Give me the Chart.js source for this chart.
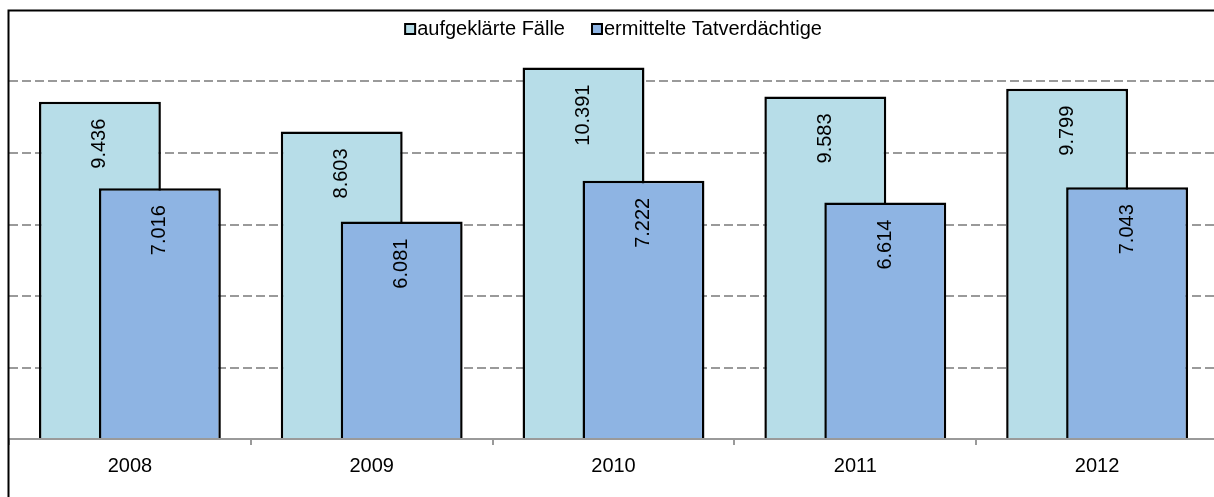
<!DOCTYPE html>
<html>
<head>
<meta charset="utf-8">
<script src="https://cdn.jsdelivr.net/npm/chart.js@4/dist/chart.umd.min.js"></script>
<style>
  html, body { margin: 0; padding: 0; background: #fff; overflow: hidden; }
  #wrap { position: absolute; left: 0; top: 0; width: 1220px; height: 497px; }
</style>
</head>
<body>
<div id="wrap"><canvas id="chart"></canvas></div>
<script>
const years = ['2008', '2009', '2010', '2011', '2012'];
const aufgeklaerteFaelle = [9436, 8603, 10391, 9583, 9799];
const ermittelteTatverdaechtige = [7016, 6081, 7222, 6614, 7043];
const seriesNames = ['aufgeklärte Fälle', 'ermittelte Tatverdächtige'];

const FONT = '"Liberation Sans", Arial, sans-serif';

// German thousands separator
function fmt(v) {
  return String(v).replace(/\B(?=(\d{3})+(?!\d))/g, '.');
}

function drawValueLabels(chart) {
  const ctx = chart.ctx;
  ctx.save();
  ctx.fillStyle = '#000';
  ctx.font = '20px ' + FONT;
  ctx.textAlign = 'right';
  ctx.textBaseline = 'middle';
  chart.data.datasets.forEach((ds, i) => {
    chart.getDatasetMeta(i).data.forEach((bar, j) => {
      ctx.save();
      ctx.translate(bar.x, bar.y + 17);
      ctx.rotate(-Math.PI / 2);
      ctx.fillText(fmt(ds.data[j]), 0, 0);
      ctx.restore();
    });
  });
  ctx.restore();
}

// draw datasets first-to-last so the second series overlaps the first
const forwardDraw = {
  id: 'forwardDraw',
  beforeDatasetsDraw(chart) {
    chart.getSortedVisibleDatasetMetas().forEach(meta => meta.controller.draw());
    drawValueLabels(chart);
    return false;
  }
};

// legend inside the plot area + chart frame
const frameAndLegend = {
  id: 'frameAndLegend',
  afterDraw(chart) {
    const ctx = chart.ctx;
    const area = chart.chartArea;
    ctx.save();
    ctx.font = '20px ' + FONT;
    const box = 10, gapText = 2, gapItem = 27;
    const widths = chart.data.datasets.map(ds => ctx.measureText(ds.label).width);
    let total = widths.reduce((a, w) => a + box + gapText + w, 0) + gapItem * (widths.length - 1);
    let x = (area.left + area.right) / 2 - total / 2;
    const cy = 29;
    ctx.textBaseline = 'middle';
    ctx.textAlign = 'left';
    chart.data.datasets.forEach((ds, i) => {
      ctx.fillStyle = ds.backgroundColor;
      ctx.fillRect(x, cy - 5, box, box);
      ctx.strokeStyle = '#000';
      ctx.lineWidth = 2;
      ctx.strokeRect(x, cy - 5, box, box);
      ctx.fillStyle = '#000';
      ctx.fillText(ds.label, x + box + gapText, cy);
      x += box + gapText + widths[i] + gapItem;
    });

    ctx.strokeStyle = '#000';
    ctx.lineWidth = 2;
    ctx.beginPath();
    ctx.moveTo(8.5, chart.height + 2);
    ctx.lineTo(8.5, 10.5);
    ctx.lineTo(chart.width + 2, 10.5);
    ctx.stroke();
    ctx.restore();
  }
};

new Chart(document.getElementById('chart'), {
  type: 'bar',
  data: {
    labels: years,
    datasets: [
      {
        label: seriesNames[0],
        data: aufgeklaerteFaelle,
        backgroundColor: '#B7DDE8',
        borderColor: '#000',
        borderWidth: 2.5
      },
      {
        label: seriesNames[1],
        data: ermittelteTatverdaechtige,
        backgroundColor: '#8EB4E3',
        borderColor: '#000',
        borderWidth: 2.5
      }
    ]
  },
  options: {
    responsive: true,
    maintainAspectRatio: false,
    animation: false,
    categoryPercentage: 0.496,
    barPercentage: 2.033,
    layout: { padding: { left: 9, top: 10, right: 2, bottom: 10 } },
    scales: {
      x: {
        z: 1,
        grid: {
          drawOnChartArea: false,
          drawTicks: true,
          tickLength: 6,
          color: '#9a9a9a',
          lineWidth: 2
        },
        border: { display: true, color: '#9a9a9a', width: 2 },
        ticks: {
          color: '#000',
          padding: 9,
          font: { family: FONT, size: 20 }
        }
      },
      y: {
        min: 0,
        max: 12000,
        ticks: { display: false, stepSize: 2000 },
        grid: {
          drawTicks: false,
          color: c => (c.tick.value === 0 || c.tick.value === 12000) ? 'rgba(0,0,0,0)' : '#9a9a9a',
          lineWidth: 2
        },
        border: { display: false, dash: [9, 4] }
      }
    },
    plugins: {
      legend: { display: false },
      tooltip: { enabled: false }
    }
  },
  plugins: [forwardDraw, frameAndLegend]
});
</script>
</body>
</html>
